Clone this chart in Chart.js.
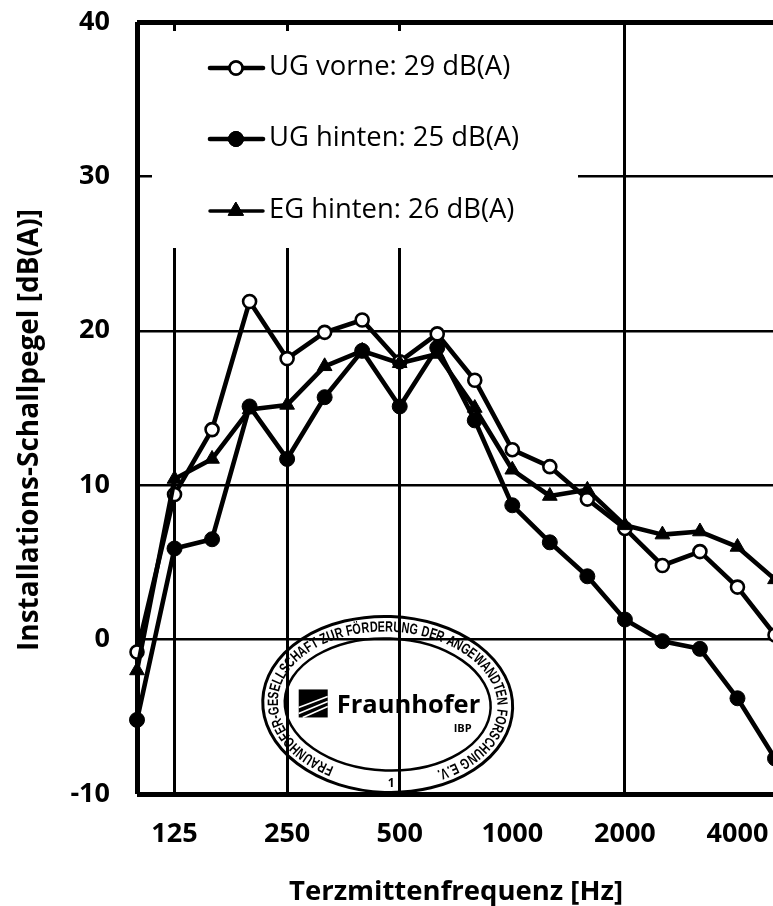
<!DOCTYPE html>
<html><head><meta charset="utf-8">
<style>html,body{margin:0;padding:0;background:#fff;overflow:hidden;width:773px;height:906px}canvas{display:block}</style>
<script src="https://cdn.jsdelivr.net/npm/chart.js@4"></script>
</head><body><canvas id="c" width="790" height="906"></canvas>
<script>
const categories=["100","125","160","200","250","315","400","500","630","800","1000","1250","1600","2000","2500","3150","4000","5000"];
const shownTicks=["125","250","500","1000","2000","4000"];
const gridColumns=["125","250","500","2000"];
const yTicks=[-10,0,10,20,30,40];
const ugVorne=[-0.8,9.4,13.6,21.9,18.2,19.9,20.7,18.0,19.8,16.8,12.3,11.2,9.1,7.2,4.8,5.7,3.4,0.3];
const ugHinten=[-5.2,5.9,6.5,15.1,11.7,15.7,18.7,15.1,18.9,14.2,8.7,6.3,4.1,1.3,-0.1,-0.6,-3.8,-7.7];
const egHinten=[-2.0,10.4,11.7,14.9,15.2,17.7,18.7,17.9,18.5,15.0,11.0,9.3,9.7,7.4,6.8,7.0,6.0,3.9];
const seriesNames=["UG vorne: 29 dB(A)","UG hinten: 25 dB(A)","EG hinten: 26 dB(A)"];
const yTitle="Installations-Schallpegel [dB(A)]";
const xTitle="Terzmittenfrequenz [Hz]";
const F='"Open Sans"';

const base={borderColor:'#000',borderWidth:4.6,pointBorderColor:'#000',clip:false,tension:0,borderJoinStyle:'round'};

const maskPlugin={id:'mask',beforeDatasetsDraw(ch){
  const c=ch.ctx,a=ch.chartArea;
  c.save();c.fillStyle='#fff';
  c.fillRect(a.left+15,a.top+9,578-a.left-15,248-a.top-9);
  c.restore();
}};

const legendPlugin={id:'inlineLegend',afterDatasetsDraw(ch){
  const c=ch.ctx;
  const rows=[68,139,211];
  ch.data.datasets.forEach((d,i)=>{
    const y=rows[i];
    c.save();
    c.strokeStyle='#000';c.lineWidth=i==2?3.5:4.6;c.lineCap='round';
    c.beginPath();c.moveTo(210,y);c.lineTo(263,y);c.stroke();
    c.fillStyle=d.pointBackgroundColor;c.strokeStyle='#000';c.lineWidth=d.pointBorderWidth;
    c.beginPath();
    Chart.helpers.drawPoint(c,{pointStyle:d.pointStyle,rotation:0,radius:d.pointRadius,borderWidth:d.pointBorderWidth},236,y);
    c.fill();c.stroke();
    c.fillStyle='#000';c.font='27.4px '+F;c.textBaseline='middle';c.textAlign='left';
    c.fillText(seriesNames[i],269,y-1);
    c.restore();
  });
}};

const yTitlePlugin={id:'yTitle',afterDraw(ch){
  const c=ch.ctx;
  c.save();c.translate(30,430);c.rotate(-Math.PI/2);
  c.font='bold 28px '+F;c.textAlign='center';c.textBaseline='middle';c.fillStyle='#000';
  c.fillText(yTitle,0,0);c.restore();
}};

const stampPlugin={id:'stamp',afterDatasetsDraw(ch){
  const c=ch.ctx,X=ch.scales.x,Y=ch.scales.y;
  const cx=X.getPixelForValue(categories.indexOf("500"))-12;
  const cy=Y.getPixelForValue(-4.2);
  c.save();
  c.translate(cx,cy);c.rotate(0.035);
  c.strokeStyle='#000';c.lineWidth=3;
  c.beginPath();c.ellipse(0,0,125,88,0,0,Math.PI*2);c.stroke();
  c.lineWidth=2.5;
  c.beginPath();c.ellipse(0,0,103,66,0,0,Math.PI*2);c.stroke();
  const text="FRAUNHOFER-GESELLSCHAFT ZUR FÖRDERUNG DER ANGEWANDTEN FORSCHUNG E.V.";
  c.font='bold 15px "Liberation Sans"';
  c.fillStyle='#000';c.textAlign='center';c.textBaseline='middle';
  const rx=114,ry=77,sx=0.72;
  const pts=[];let L=0,px=null,py=null;
  const a0=Math.PI/2+0.48,a1=Math.PI*2+Math.PI/2-0.48;
  for(let i=0;i<=800;i++){const t=a0+(a1-a0)*i/800;const x=rx*Math.cos(t),y=ry*Math.sin(t);
    if(px!==null)L+=Math.hypot(x-px,y-py);pts.push([x,y,L,t]);px=x;py=y;}
  const widths=[...text].map(ch=>c.measureText(ch).width*sx);
  const total=widths.reduce((s,w)=>s+w,0);
  const gap=(L-total)/(text.length-1);
  let pos=0,j=0;
  [...text].forEach((chr,i)=>{
    const target=pos+widths[i]/2;
    while(j<pts.length-1&&pts[j][2]<target)j++;
    const t=pts[j][3];
    const ang=Math.atan2(ry*Math.cos(t),-rx*Math.sin(t));
    c.save();c.translate(pts[j][0],pts[j][1]);c.rotate(ang);c.scale(sx,1);c.fillText(chr,0,0);c.restore();
    pos+=widths[i]+gap;
  });
  c.restore();
  c.save();c.translate(cx,cy);
  c.fillStyle='#000';c.fillRect(-89,-15,29,28);
  c.strokeStyle='#fff';c.lineWidth=1.6;
  [[-89,3,-60,-8],[-89,9,-60,-3],[-85,13,-60,2]].forEach(l=>{c.beginPath();c.moveTo(l[0],l[1]);c.lineTo(l[2],l[3]);c.stroke();});
  c.fillStyle='#000';c.textBaseline='middle';c.textAlign='left';
  c.font='bold 25.5px '+F;c.fillText("Fraunhofer",-51,1);
  c.font='bold 11px '+F;c.fillText("IBP",66,24);
  c.font='bold 12px '+F;c.fillText("1",0,79);
  c.restore();
}};

new Chart(document.getElementById('c'),{
  type:'line',
  data:{labels:categories,datasets:[
    {...base,label:seriesNames[0],data:ugVorne,order:2,pointStyle:'circle',pointRadius:6.5,pointBorderWidth:2.6,pointBackgroundColor:'#fff'},
    {...base,label:seriesNames[1],data:ugHinten,order:1,pointStyle:'circle',pointRadius:7.5,pointBorderWidth:1,pointBackgroundColor:'#000'},
    {...base,label:seriesNames[2],data:egHinten,order:0,pointStyle:'triangle',pointRadius:8.5,pointBorderWidth:1,pointBackgroundColor:'#000'}
  ]},
  options:{
    responsive:false,animation:false,
    layout:{padding:{top:22,right:15,left:0,bottom:0}},
    plugins:{legend:{display:false},tooltip:{enabled:false}},
    scales:{
      x:{type:'category',offset:false,
        afterFit(s){s.height=112;s.paddingLeft=0;s.paddingRight=0;},
        border:{display:false},
        grid:{drawTicks:false,
          color:ctx=>{const l=categories[ctx.index];return (ctx.index===0||gridColumns.includes(l))?'#000':'rgba(0,0,0,0)';},
          lineWidth:ctx=>ctx.index===0?5:(gridColumns.includes(categories[ctx.index])?3:0)},
        ticks:{autoSkip:false,maxRotation:0,padding:24,color:'#000',font:{family:F,weight:'bold',size:27},
          callback(v){const l=categories[v];return shownTicks.includes(l)?l:'';}},
        title:{display:true,text:xTitle,color:'#000',font:{family:F,weight:'bold',size:27.5},padding:{top:18,bottom:-3}}
      },
      y:{min:-10,max:40,
        afterFit(s){s.width=137;s.paddingTop=0;s.paddingBottom=0;},
        afterBuildTicks(s){s.ticks=yTicks.map(v=>({value:v}));},
        border:{display:false},
        grid:{drawTicks:false,color:'#000',lineWidth:ctx=>(ctx.tick.value===40||ctx.tick.value===-10)?5:2.5},
        ticks:{padding:27,color:'#000',font:{family:F,weight:'bold',size:27}}
      }
    }
  },
  plugins:[maskPlugin,stampPlugin,legendPlugin,yTitlePlugin]
});
</script></body></html>
